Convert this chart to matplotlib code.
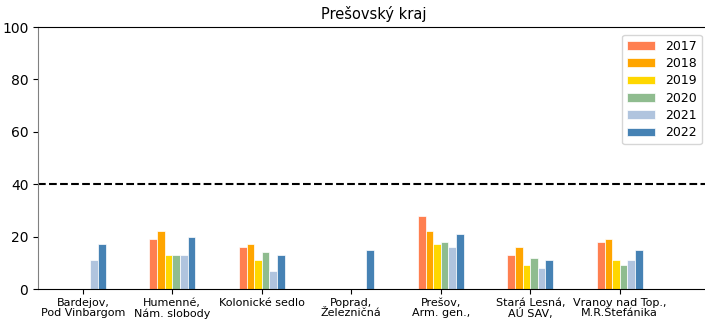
import numpy as np
import matplotlib
matplotlib.use("Agg")
import matplotlib.pyplot as plt

# stations (x tick labels)
stations = [
    "Bardejov,\nPod Vinbargom",
    "Humenné,\nNám. slobody",
    "Kolonické sedlo",
    "Poprad,\nŽelezničná",
    "Prešov,\nArm. gen.,",
    "Stará Lesná,\nAÚ SAV,",
    "Vranov nad Top.,\nM.R.Štefánika",
]

years = ["2017", "2018", "2019", "2020", "2021", "2022"]

# values per year (nan = no data)
v2017 = [np.nan, 19, 16, np.nan, 28, 13, 18]
v2018 = [np.nan, 22, 17, np.nan, 22, 16, 19]
v2019 = [np.nan, 13, 11, np.nan, 17, 9, 11]
v2020 = [np.nan, 13, 14, np.nan, 18, 12, 9]
v2021 = [11, 13, 7, np.nan, 16, 8, 11]
v2022 = [17, 20, 13, 15, 21, 11, 15]

colors = ["coral", "orange", "gold", "darkseagreen", "lightsteelblue", "steelblue"]
limit = 40


def main():
    fig = plt.figure(figsize=(7.05, 3.19), dpi=100)
    ax = fig.add_axes([0.054, 0.094, 0.952, 0.821])

    x = np.arange(len(stations))
    width = 0.085
    series = [v2017, v2018, v2019, v2020, v2021, v2022]
    for i, (vals, year, col) in enumerate(zip(series, years, colors)):
        ax.bar(x + (i - 2.5) * width, vals, width, color=col, label=year,
               edgecolor="white", linewidth=0.5)

    # limit line
    ax.axhline(limit, color="black", linestyle="--", linewidth=1.5)

    ax.set_xlim(-0.5, 7.0)
    ax.set_ylim(0, 100)
    ax.set_yticks([0, 20, 40, 60, 80, 100])
    ax.set_xticks(x)
    ax.set_xticklabels(stations, fontsize=8, linespacing=1.05)
    ax.tick_params(axis="x", pad=3)
    ax.tick_params(axis="y", labelsize=10)

    ax.spines["right"].set_visible(False)
    ax.spines["left"].set_color("grey")

    ax.set_title("Prešovský kraj", fontsize=10.5)
    ax.legend(loc="upper right", fontsize=9, borderaxespad=0.6,
              handlelength=2.2, labelspacing=0.35)

    fig.savefig("out.png", dpi=100)


if __name__ == "__main__":
    main()
